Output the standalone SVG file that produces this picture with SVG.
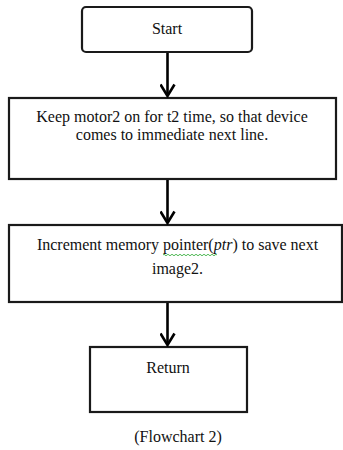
<svg xmlns="http://www.w3.org/2000/svg" width="343" height="450" viewBox="0 0 343 450">
  <defs>
    <marker id="arrow" markerWidth="15" markerHeight="16" viewBox="0 0 15 16" refX="13" refY="8" orient="auto" markerUnits="userSpaceOnUse">
      <path d="M1.5,1 L13,8 L1.5,15" fill="none" stroke="#000" stroke-width="2.6"/>
    </marker>
  </defs>
  <style>
    .box { fill: #fff; stroke: #1a1a1a; stroke-width: 2.2; }
    .txt { font-family: "Liberation Serif", "Times New Roman", serif; font-size: 16px; fill: #111; text-anchor: middle; }
    .conn { stroke: #000; stroke-width: 2.6; fill: none; }
  </style>
  <rect width="343" height="450" fill="#fff"/>

  <g id="start">
    <rect class="box" x="82" y="7" width="170" height="45" rx="4"/>
    <text class="txt" x="167" y="34">Start</text>
  </g>

  <g id="motor">
    <rect class="box" x="9" y="98" width="327" height="81"/>
    <text class="txt" x="172" y="122">Keep motor2 on for t2 time, so that device</text>
    <text class="txt" x="172" y="140">comes to immediate next line.</text>
  </g>

  <g id="increment">
    <rect class="box" x="9" y="225" width="333" height="77"/>
    <text class="txt" x="177.5" y="250">Increment memory pointer(<tspan font-style="italic">ptr</tspan>) to save next</text>
    <text class="txt" x="177.5" y="274">image2.</text>
    <!-- spell-check squiggle under "pointer(" -->
    <path d="M163,255 q1,-1.5 2,0 t2,0 t2,0 t2,0 t2,0 t2,0 t2,0 t2,0 t2,0 t2,0 t2,0 t2,0 t2,0 t2,0 t2,0 t2,0 t2,0 t2,0 t2,0 t2,0 t2,0 t2,0 t2,0 t2,0 t2,0 t2,0 t2,0" fill="none" stroke="#3cb043" stroke-width="0.9"/>
  </g>

  <g id="return">
    <rect class="box" x="90" y="347" width="157" height="65"/>
    <text class="txt" x="168" y="373">Return</text>
  </g>

  <text class="txt" x="178" y="442">(Flowchart 2)</text>

  <g id="connectors">
    <line class="conn" x1="167.5" y1="53" x2="167.5" y2="96" marker-end="url(#arrow)"/>
    <line class="conn" x1="167.5" y1="180" x2="167.5" y2="223" marker-end="url(#arrow)"/>
    <line class="conn" x1="167.5" y1="303" x2="167.5" y2="345" marker-end="url(#arrow)"/>
  </g>
</svg>
